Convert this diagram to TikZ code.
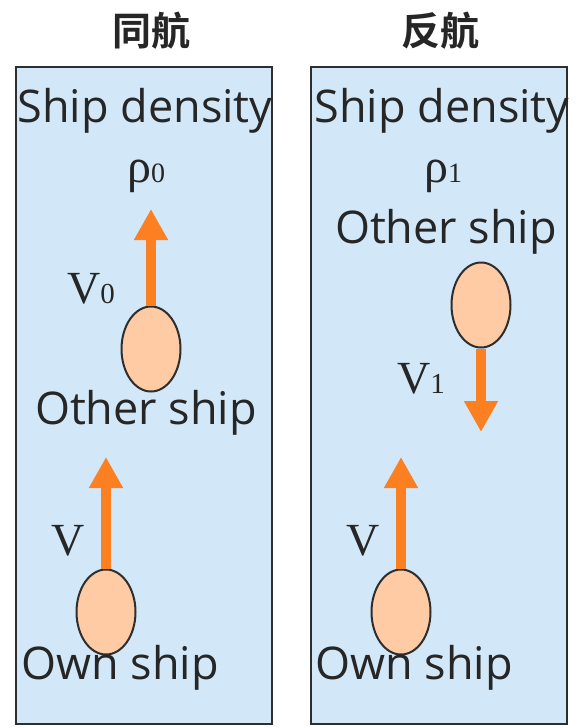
\documentclass[tikz,border=0pt]{standalone}
\usepackage{fontspec}
\usetikzlibrary{arrows.meta}
\newfontfamily\uifont{Open Sans}
\newfontfamily\serfont{Liberation Serif}
\newfontfamily\cjkfont{Noto Sans CJK SC}[BoldFont={Noto Sans CJK SC Bold}]
\definecolor{boxfill}{HTML}{D2E8F9}
\definecolor{boxline}{HTML}{2E2E2E}
\definecolor{shipfill}{HTML}{FFCBA4}
\definecolor{arrorange}{HTML}{FC7F21}
\definecolor{txt}{HTML}{262626}
\tikzset{
  panel/.style={draw=boxline, line width=2.5pt, fill=boxfill},
  ship/.style={ellipse, draw=boxline, line width=2pt, fill=shipfill, minimum width=59pt, minimum height=85pt, inner sep=0pt},
  lbl/.style={text=txt, font=\uifont\fontsize{45}{50}\selectfont, inner sep=0pt, anchor=base},
  title/.style={text=txt, font=\cjkfont\bfseries\fontsize{39}{42}\selectfont, inner sep=0pt},
  sym/.style={text=txt, inner sep=0pt, anchor=base west},
  vel/.style={draw=arrorange, line width=10pt, -{Triangle[width=32pt,length=31pt]}, fill=arrorange}
}
\usetikzlibrary{shapes.geometric}
\begin{document}
\begin{tikzpicture}[x=1pt,y=-1pt]
\useasboundingbox (0,0) rectangle (578,728);
% panels
\draw[panel] (16,67) rectangle (272,724);
\draw[panel] (311,67) rectangle (567,724);
% titles
\node[title] (t1) at (151,31) {同航};
\node[title] (t2) at (440,31) {反航};
% left panel
\node[lbl] (sd1) at (145,122) {Ship density};
\node[sym] (rho0) at (127,182) {\serfont\fontsize{48}{50}\selectfont ρ\fontsize{28}{30}\selectfont 0};
\node[ship] (os1) at (151,349) {};
\coordinate (tip1) at (151,209);
\draw[vel] (os1.north) -- (tip1);
\node[sym] (v0) at (67,303) {\serfont\fontsize{46}{50}\selectfont V\fontsize{29}{30}\selectfont 0};
\node[lbl] (oth1) at (146,424) {Other ship};
\node[ship] (own1) at (106,612) {};
\coordinate (tip2) at (106,457);
\draw[vel] (own1.north) -- (tip2);
\node[sym] (v) at (51,555) {\serfont\fontsize{46}{50}\selectfont V};
\node[lbl] (ow1) at (120,679) {Own ship};
% right panel
\node[lbl] (sd2) at (442,122) {Ship density};
\node[sym] (rho1) at (424,182) {\serfont\fontsize{48}{50}\selectfont ρ\fontsize{28}{30}\selectfont 1};
\node[lbl] (oth2) at (446,243) {Other ship};
\node[ship] (os2) at (481,305) {};
\coordinate (tip3) at (481,432);
\draw[vel] (os2.south) -- (tip3);
\node[sym] (v1) at (397,393) {\serfont\fontsize{46}{50}\selectfont V\fontsize{29}{30}\selectfont 1};
\node[ship] (own2) at (401,612) {};
\coordinate (tip4) at (401,457);
\draw[vel] (own2.north) -- (tip4);
\node[sym] (vr) at (346,555) {\serfont\fontsize{46}{50}\selectfont V};
\node[lbl] (ow2) at (414,679) {Own ship};
\end{tikzpicture}
\end{document}
